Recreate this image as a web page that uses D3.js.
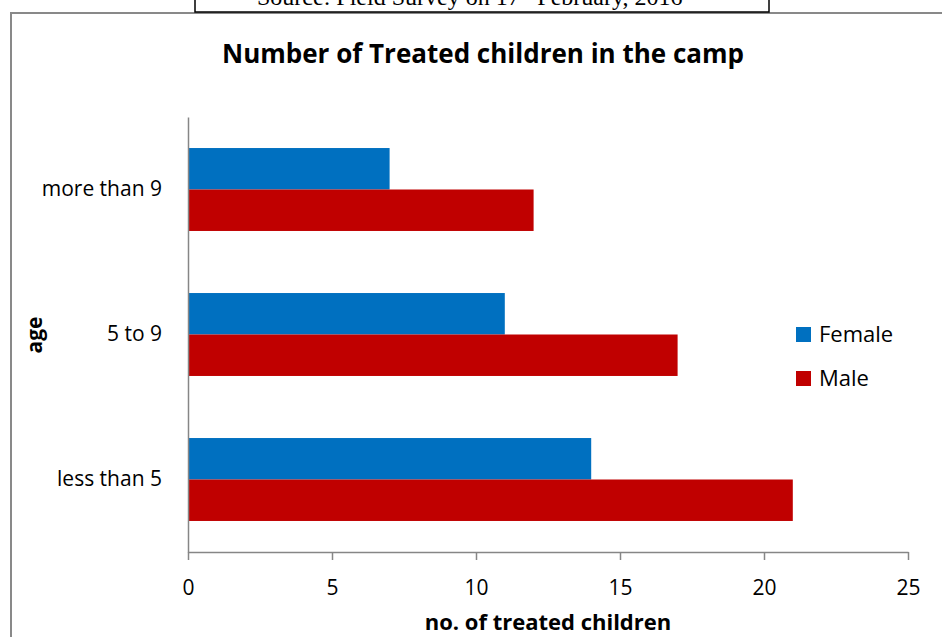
<!DOCTYPE html>
<html>
<head>
<meta charset="utf-8">
<script src="https://cdn.jsdelivr.net/npm/d3@7"></script>
<style>
  body { margin: 0; background: #fff; }
  svg { display: block; }
  text { font-family: "Open Sans", "Noto Sans", sans-serif; fill: #000; }
</style>
</head>
<body>
<svg id="chart" width="942" height="637"></svg>
<script>
// chart data
var categories = ['less than 5', '5 to 9', 'more than 9'];
var seriesNames = ['Female', 'Male'];
var femaleValues = [14, 11, 7];
var maleValues = [21, 17, 12];
var xTicks = [0, 5, 10, 15, 20, 25];
var colors = { Female: '#0070C0', Male: '#C00000' };

var svg = d3.select('#chart');

// outer chart frame (runs off the right and bottom of the picture)
svg.append('rect')
    .attr('x', 11).attr('y', 13)
    .attr('width', 1000).attr('height', 700)
    .attr('fill', 'none')
    .attr('stroke', '#898989')
    .attr('stroke-width', 2);

// clipped source caption box at the top
svg.append('rect')
    .attr('x', 195).attr('y', -20)
    .attr('width', 574).attr('height', 32)
    .attr('fill', '#fff')
    .attr('stroke', '#000')
    .attr('stroke-width', 1.5);

var source = svg.append('text')
    .attr('x', 257).attr('y', 5)
    .style('font-family', '"Liberation Serif", "Times New Roman", serif')
    .style('font-size', '24px');
source.append('tspan').text('Source: Field Survey on 17');
source.append('tspan').attr('dy', -9).style('font-size', '15px').text('th');
source.append('tspan').attr('dy', 9).text(' February, 2016');

// title
svg.append('text')
    .attr('x', 483).attr('y', 63)
    .attr('text-anchor', 'middle')
    .style('font-size', '26px')
    .style('font-weight', 'bold')
    .text('Number of Treated children in the camp');

var x = d3.scaleLinear().domain([0, 25]).range([188, 908]);

var y = d3.scaleBand()
    .domain(categories.slice().reverse())
    .range([117, 552])
    .paddingInner(0.428)
    .paddingOuter(0.214);

var ySub = d3.scaleBand()
    .domain(seriesNames)
    .range([0, y.bandwidth()]);

var rows = categories.map(function(c, i) {
    return { cat: c, Female: femaleValues[i], Male: maleValues[i] };
});

var groups = svg.append('g').selectAll('g')
    .data(rows)
    .enter().append('g')
    .attr('transform', function(d) { return 'translate(0,' + y(d.cat) + ')'; });

groups.selectAll('rect')
    .data(function(d) {
        return seriesNames.map(function(s) { return { key: s, value: d[s] }; });
    })
    .enter().append('rect')
    .attr('x', x(0))
    .attr('y', function(d) { return ySub(d.key); })
    .attr('width', function(d) { return x(d.value) - x(0); })
    .attr('height', ySub.bandwidth())
    .attr('fill', function(d) { return colors[d.key]; });

// x axis
var xAxis = svg.append('g')
    .attr('transform', 'translate(0,552)')
    .call(d3.axisBottom(x).tickValues(xTicks).tickSize(8).tickPadding(20).tickSizeOuter(0));
xAxis.select('.domain').attr('stroke', '#868686').attr('stroke-width', 1.5);
xAxis.selectAll('.tick line').attr('stroke', '#868686').attr('stroke-width', 1.5);
xAxis.selectAll('.tick text')
    .style('font-family', '"Open Sans", sans-serif')
    .style('font-size', '21px')
    .attr('fill', '#000');

// y axis
var yAxis = svg.append('g')
    .attr('transform', 'translate(188,0)')
    .call(d3.axisLeft(y).tickSize(0).tickPadding(26));
yAxis.select('.domain').attr('stroke', '#868686').attr('stroke-width', 1.5);
yAxis.selectAll('.tick text')
    .style('font-family', '"Open Sans", sans-serif')
    .style('font-size', '21px')
    .attr('fill', '#000');

// axis titles
svg.append('text')
    .attr('x', 548).attr('y', 630)
    .attr('text-anchor', 'middle')
    .style('font-size', '22px')
    .style('font-weight', 'bold')
    .text('no. of treated children');

svg.append('text')
    .attr('transform', 'translate(42,335) rotate(-90)')
    .attr('text-anchor', 'middle')
    .style('font-size', '21px')
    .style('font-weight', 'bold')
    .text('age');

// legend
var legend = svg.append('g').selectAll('g')
    .data(seriesNames)
    .enter().append('g')
    .attr('transform', function(d, i) { return 'translate(796,' + (327 + i * 44) + ')'; });

legend.append('rect')
    .attr('width', 15).attr('height', 15)
    .attr('fill', function(d) { return colors[d]; });

legend.append('text')
    .attr('x', 23).attr('y', 14.5)
    .style('font-size', '22px')
    .text(function(d) { return d; });
</script>
</body>
</html>
